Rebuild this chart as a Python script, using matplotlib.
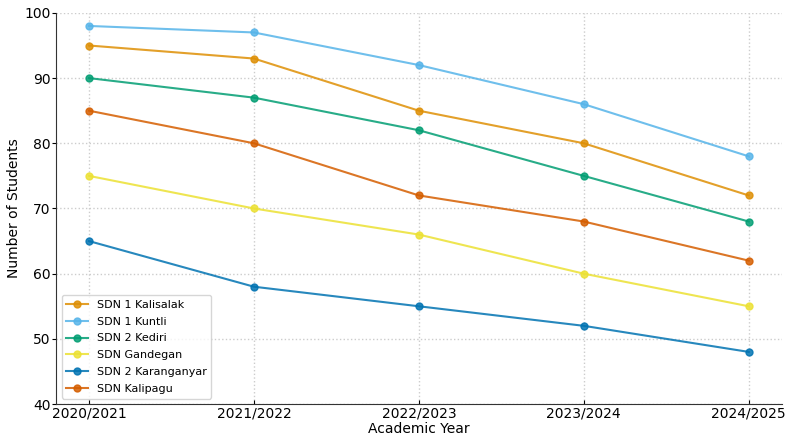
import matplotlib
matplotlib.use("Agg")
import matplotlib.pyplot as plt

years = ['2020/2021', '2021/2022', '2022/2023', '2023/2024', '2024/2025']

kalisalak = [95, 93, 85, 80, 72]
kuntli = [98, 97, 92, 86, 78]
kediri = [90, 87, 82, 75, 68]
gandegan = [75, 70, 66, 60, 55]
karanganyar = [65, 58, 55, 52, 48]
kalipagu = [85, 80, 72, 68, 62]

series = [
    ('SDN 1 Kalisalak', kalisalak, '#de8f05'),
    ('SDN 1 Kuntli', kuntli, '#56b4e9'),
    ('SDN 2 Kediri', kediri, '#029e73'),
    ('SDN Gandegan', gandegan, '#ece133'),
    ('SDN 2 Karanganyar', karanganyar, '#0173b2'),
    ('SDN Kalipagu', kalipagu, '#d55e00'),
]

fig = plt.figure(figsize=(7.92, 4.45), dpi=100)
ax = fig.add_axes([0.0707, 0.092, 0.9163, 0.879])

x = range(len(years))
for name, vals, col in series:
    ax.plot(x, vals, marker='o', markersize=5, linewidth=1.5, color=col,
            alpha=0.85, label=name)

ax.set_xticks(list(x))
ax.set_xticklabels(years)
ax.set_xlim(-0.2, 4.2)
ax.set_ylim(40, 100)
ax.set_yticks(range(40, 101, 10))
ax.tick_params(axis='x', direction='in', length=3, pad=2, labelsize=10)
ax.tick_params(axis='y', direction='out', length=3, pad=1, labelsize=10)
ax.set_xlabel('Academic Year', fontsize=10, labelpad=1)
ax.set_ylabel('Number of Students', fontsize=10, labelpad=2)
ax.grid(True, linestyle=':', color='#cccccc', linewidth=1)
for s in ['top', 'right']:
    ax.spines[s].set_visible(False)
ax.spines['left'].set_color('#333333')
ax.spines['bottom'].set_color('#333333')

ax.legend(loc='lower left', fontsize=8, labelspacing=0.62)

fig.savefig('out.png', dpi=100)
